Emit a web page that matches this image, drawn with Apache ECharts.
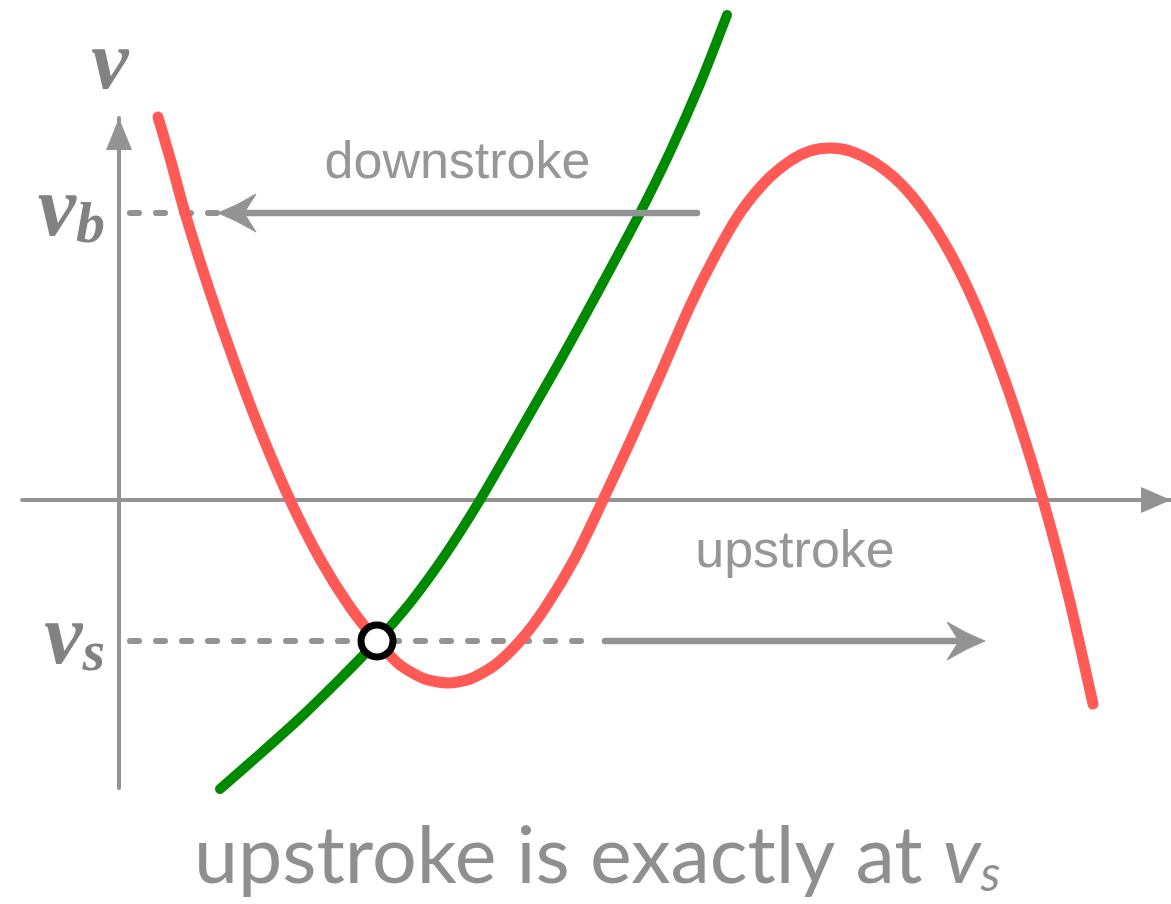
<!DOCTYPE html>
<html>
<head>
<meta charset="utf-8">
<script src="https://cdn.jsdelivr.net/npm/echarts@6/dist/echarts.min.js"></script>
<style>
  html, body { margin: 0; padding: 0; background: #ffffff; }
  #chart { width: 1171px; height: 904px; }
</style>
</head>
<body>
<div id="chart"></div>
<script>
// Cubic-shaped nullcline (red)
const redX = [0.39, 0.51, 0.66, 0.91, 1.16, 1.41, 1.71, 2.01, 2.31, 2.58, 2.81, 3.06, 3.29, 3.51, 3.76,
              4.01, 4.26, 4.56, 4.84, 5.11, 5.41, 5.71, 5.96, 6.21, 6.46, 6.71, 6.91, 7.11, 7.31, 7.56,
              7.81, 8.06, 8.31, 8.56, 8.81, 9.01, 9.24, 9.49, 9.74];
const redY = [3.83, 3.42, 2.87, 2.08, 1.36, 0.70, 0.00, -0.59, -1.07, -1.41, -1.65, -1.79, -1.83, -1.79, -1.65,
              -1.41, -1.08, -0.58, 0.00, 0.58, 1.25, 1.94, 2.44, 2.87, 3.18, 3.39, 3.49, 3.52, 3.49, 3.37,
              3.17, 2.87, 2.47, 1.96, 1.33, 0.75, 0.00, -0.94, -2.04];

// Rising nullcline (green)
const greenX = [1.01, 1.41, 1.81, 2.21, 2.58, 2.91, 3.26, 3.61, 4.01, 4.41, 4.81, 5.21, 5.51, 5.81, 6.08];
const greenY = [-2.89, -2.54, -2.18, -1.79, -1.41, -1.03, -0.55, 0.00, 0.69, 1.39, 2.12, 2.87, 3.48, 4.16, 4.85];

// Threshold levels on the v axis and their subscripts
const vB = 2.87;
const vS = -1.41;
const levelValues = [vS, vB];
const levelSubs = ['s', 'b'];

// Intersection of the two curves
const fixedPoint = [2.58, -1.41];

// Stroke arrows: label, level, shaft start, arrow tip, end of dashed guide
const strokeNames = ['downstroke', 'upstroke'];
const strokeLevels = [vB, vS];
const strokeFrom = [5.78, 4.86];
const strokeTo = [0.99, 8.66];
const guideTo = [0.99, 4.78];

const titleText = 'upstroke is exactly at ';

// Axis extents and plot box
const X_MIN = -0.97, X_MAX = 10.52;
const Y_MIN = -2.88, Y_MAX = 3.82;
const GRID = { left: 22, right: 0, top: 118, bottom: 116 };
const CHART_W = 1171;
const gridW = CHART_W - GRID.left - GRID.right;
// move the vertical axis (line + labels) onto x = 0
const yAxisShift = -((0 - X_MIN) / (X_MAX - X_MIN)) * gridW;

const GRAY = '#939393';
const TEXT_GRAY = '#979797';
const MATH_GRAY = '#828282';

const zip = (xs, ys) => xs.map((x, i) => [x, ys[i]]);
const strokeData = strokeNames.map((n, i) => [strokeFrom[i], strokeTo[i], strokeLevels[i], guideTo[i]]);

// label offset (px above the arrow) per stroke
const labelLift = [23, 62];

const mathFont = {
  fontFamily: 'Liberation Serif',
  fontStyle: 'italic',
  fontWeight: 'bold',
  color: MATH_GRAY
};

const chart = echarts.init(document.getElementById('chart'), null, { renderer: 'canvas' });

chart.setOption({
  animation: false,
  backgroundColor: '#ffffff',
  title: {
    text: '{a|' + titleText + '}{v|v}{s|s}',
    left: 189,
    top: 811,
    textStyle: {
      fontWeight: 'normal',
      rich: {
        a: { fontFamily: 'Lato', fontWeight: 'normal', fontSize: 79, color: '#8f8f8f' },
        v: { fontFamily: 'Lato', fontWeight: 'normal', fontStyle: 'italic', fontSize: 79, color: '#8f8f8f' },
        s: { fontFamily: 'Lato', fontWeight: 'normal', fontStyle: 'italic', fontSize: 50, color: '#8f8f8f', padding: [34, 0, 0, 0] }
      }
    }
  },
  grid: {
    left: GRID.left, right: GRID.right, top: GRID.top, bottom: GRID.bottom,
    containLabel: false,
    outerBoundsMode: 'none'
  },
  xAxis: {
    type: 'value',
    min: X_MIN,
    max: X_MAX,
    axisLine: {
      onZero: true,
      lineStyle: { color: GRAY, width: 4 },
      symbol: ['none', 'triangle'],
      symbolSize: [26, 30],
      symbolOffset: [0, -15]
    },
    axisTick: { show: false },
    axisLabel: { show: false },
    splitLine: { show: false }
  },
  yAxis: {
    type: 'value',
    min: Y_MIN,
    max: Y_MAX,
    offset: yAxisShift,
    name: 'v',
    nameLocation: 'end',
    nameGap: 10,
    nameTextStyle: Object.assign({ fontSize: 84, padding: [0, 18, 0, 0] }, mathFont),
    axisLine: {
      onZero: false,
      lineStyle: { color: GRAY, width: 4 },
      symbol: ['none', 'triangle'],
      symbolSize: [26, 32],
      symbolOffset: [0, -16]
    },
    axisTick: { show: false },
    splitLine: { show: false },
    axisLabel: {
      show: true,
      customValues: levelValues,
      margin: 14,
      formatter: function (val) {
        const idx = levelValues.indexOf(val);
        return '{v|v}{sub|' + levelSubs[idx] + '}';
      },
      rich: {
        v: Object.assign({ fontSize: 86 }, mathFont),
        sub: Object.assign({ fontSize: 58, padding: [28, 0, 0, 0] }, mathFont)
      }
    }
  },
  series: [
    {
      // dashed guides from the v axis to each level
      type: 'custom',
      z: 1,
      silent: true,
      data: strokeData,
      renderItem: function (params, api) {
        const level = api.value(2);
        const axisPt = api.coord([0, level]);
        const endPt = api.coord([api.value(3), level]);
        return {
          type: 'line',
          shape: { x1: axisPt[0] + 11, y1: axisPt[1], x2: endPt[0], y2: endPt[1] },
          style: { stroke: GRAY, lineWidth: 6, lineDash: [9, 17], lineCap: 'round' }
        };
      }
    },
    {
      type: 'line',
      z: 2,
      data: zip(redX, redY),
      smooth: 0.25,
      showSymbol: false,
      clip: false,
      silent: true,
      lineStyle: { color: '#ff5a55', width: 11, cap: 'round' }
    },
    {
      type: 'line',
      z: 2,
      data: zip(greenX, greenY),
      smooth: 0.25,
      showSymbol: false,
      clip: false,
      silent: true,
      lineStyle: { color: '#008a00', width: 10, cap: 'round' }
    },
    {
      // solid stroke arrows with their labels
      type: 'custom',
      z: 3,
      silent: true,
      data: strokeData,
      renderItem: function (params, api) {
        const level = api.value(2);
        const from = api.coord([api.value(0), level]);
        const tip = api.coord([api.value(1), level]);
        const dir = tip[0] > from[0] ? 1 : -1;
        const y = tip[1];
        const t = tip[0];
        const headLen = 38, half = 19, notch = 26;
        const head = 'M' + t + ',' + y +
          'Q' + (t - dir * 18) + ',' + (y - 7) + ' ' + (t - dir * headLen) + ',' + (y - half) +
          'L' + (t - dir * notch) + ',' + y +
          'L' + (t - dir * headLen) + ',' + (y + half) +
          'Q' + (t - dir * 18) + ',' + (y + 7) + ' ' + t + ',' + y + 'Z';
        const mid = (from[0] + tip[0]) / 2;
        return {
          type: 'group',
          children: [
            {
              type: 'line',
              shape: { x1: from[0], y1: y, x2: t - dir * (notch - 2), y2: y },
              style: { stroke: GRAY, lineWidth: 6.5, lineCap: 'round' }
            },
            {
              type: 'path',
              shape: { pathData: head },
              style: { fill: GRAY, stroke: GRAY, lineWidth: 1 }
            },
            {
              type: 'text',
              style: {
                text: strokeNames[params.dataIndex],
                x: mid,
                y: y - labelLift[params.dataIndex],
                align: 'center',
                verticalAlign: 'bottom',
                fontFamily: 'Liberation Sans',
                fontSize: 52,
                fill: TEXT_GRAY
              }
            }
          ]
        };
      }
    },
    {
      type: 'scatter',
      z: 4,
      silent: true,
      data: [fixedPoint],
      symbol: 'circle',
      symbolSize: 32,
      itemStyle: { color: '#ffffff', borderColor: '#000000', borderWidth: 7, opacity: 1 }
    }
  ]
});
</script>
</body>
</html>
